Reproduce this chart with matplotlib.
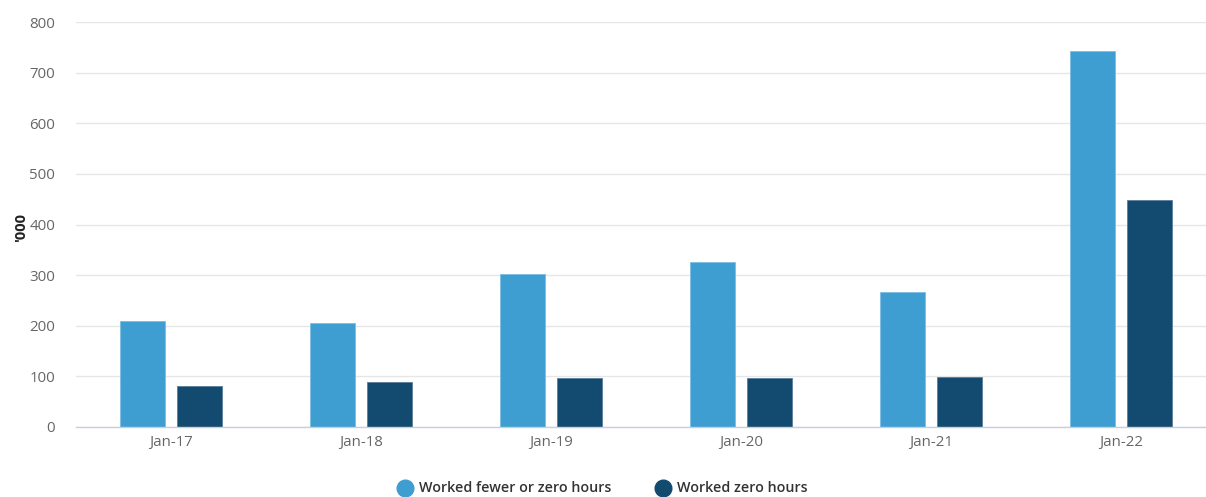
import matplotlib.pyplot as plt
import numpy as np

# Data (thousands)
categories = ["Jan-17", "Jan-18", "Jan-19", "Jan-20", "Jan-21", "Jan-22"]
fewer_or_zero = [209, 205, 302, 326, 267, 743]
zero_hours = [81, 89, 97, 97, 99, 448]
series_names = ["Worked fewer or zero hours", "Worked zero hours"]
y_ticks = [0, 100, 200, 300, 400, 500, 600, 700, 800]

LIGHT = "#3e9dd1"
DARK = "#134a70"

plt.rcParams['font.family'] = ['Open Sans', 'DejaVu Sans']

fig = plt.figure(figsize=(12.06, 4.97), dpi=100)
ax = fig.add_axes([76 / 1206, 70 / 497, 1 - 76 / 1206, 405 / 497])

x = np.arange(len(categories))
width = 0.237
offset = 0.15
ax.bar(x - offset, fewer_or_zero, width, color=LIGHT, edgecolor="#7dbde3",
       linewidth=0.6, zorder=3)
ax.bar(x + offset, zero_hours, width, color=DARK, edgecolor="#5a7d99",
       linewidth=0.6, zorder=3)

ax.set_xlim(-0.50, 5.447)
ax.set_ylim(0, 800)
ax.set_yticks(y_ticks)
ax.set_xticks(x)
ax.set_xticklabels(categories)

ax.grid(axis='y', color='#e6e6e6', linewidth=1, zorder=0)
for side in ['top', 'right', 'left']:
    ax.spines[side].set_visible(False)
ax.spines['bottom'].set_color('#c4cfe0')
ax.spines['bottom'].set_linewidth(1)
ax.spines['bottom'].set_zorder(4)

ax.tick_params(axis='y', length=0, labelsize=10.8, labelcolor='#666666', pad=15)
ax.tick_params(axis='x', length=0, labelsize=10.8, labelcolor='#666666', pad=6)

fig.text(21 / 1206, 1 - 228 / 497, "'000", rotation=90, fontsize=10.5,
         fontweight='bold', color='#222222', ha='center', va='center')

# Legend drawn as markers + text in figure coords
legend_y = 1 - 488 / 497
for xpos, name, col in [(405, series_names[0], LIGHT), (663, series_names[1], DARK)]:
    fig.lines.append(plt.Line2D([xpos / 1206], [legend_y], marker='o',
                                markersize=12, color=col, linestyle='none',
                                transform=fig.transFigure))
    fig.text((xpos + 14) / 1206, legend_y, name, fontsize=10.3,
             fontweight='semibold', color='#333333', ha='left', va='center')

fig.savefig("out.png", dpi=100)
